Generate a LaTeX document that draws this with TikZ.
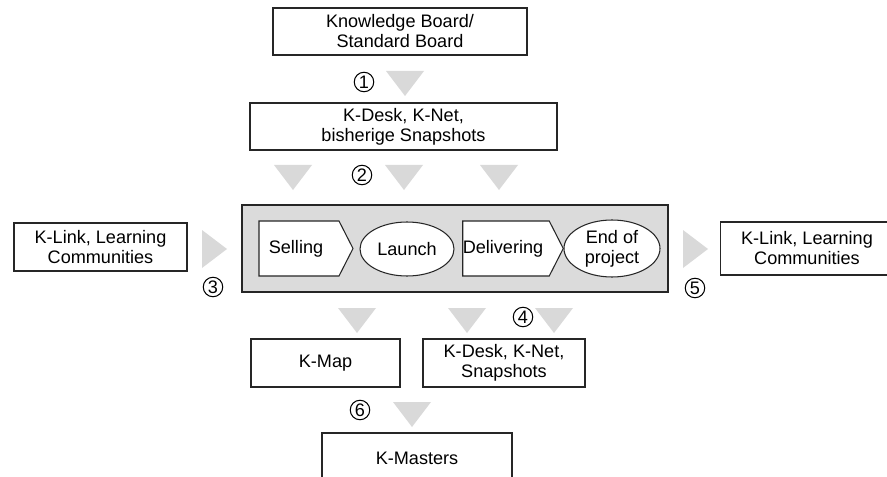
\documentclass[tikz,border=0pt]{standalone}
\usepackage{fontspec}
\setmainfont{Liberation Sans}
\usepackage{tikz}
\usetikzlibrary{shapes.geometric,shapes.symbols}

\begin{document}
\begin{tikzpicture}[scale=0.2]
        \tikzstyle{every node}+=[inner sep=0pt, font=\fontsize{10.3}{11.4}\selectfont, align=center]
        \tikzstyle{box}=[draw=black!85, line width=0.6pt, fill=white, rectangle]
        \tikzstyle{phase}=[draw=black!85, line width=0.6pt, fill=white, signal, signal to=east, signal pointer angle=126, minimum width=1.88cm, minimum height=1.1cm]
        \tikzstyle{event}=[draw=black!85, line width=0.6pt, fill=white, ellipse]
        \tikzstyle{num}=[draw=black, line width=0.6pt, circle, minimum size=0.39cm]
        \tikzstyle{tri}=[fill=black!15]
        \clip (0,0) rectangle (88.7,-47.7);
        \useasboundingbox (0,0) rectangle (88.7,-47.7);
        % boxes
        \node [box, minimum width=5.08cm, minimum height=0.94cm] (board) at (40.0,-3.15) {Knowledge Board/\\Standard Board};
        \node [box, minimum width=6.14cm, minimum height=0.94cm] (desk) at (40.35,-12.65) {K-Desk, K-Net,\\bisherige Snapshots};
        \node [box, minimum width=3.46cm, minimum height=0.96cm] (linkin) at (10.05,-24.7) {K-Link, Learning\\Communities};
        \node [box, minimum width=3.46cm, minimum height=1.06cm] (linkout) at (80.7,-24.85) {K-Link, Learning\\Communities};
        \node [box, fill=black!14, minimum width=8.52cm, minimum height=1.74cm] (project) at (45.5,-24.85) {};
        \node [box, minimum width=2.98cm, minimum height=0.96cm] (kmap) at (32.55,-36.3) {K-Map};
        \node [box, minimum width=3.24cm, minimum height=0.96cm] (snap) at (50.4,-36.3) {K-Desk, K-Net,\\Snapshots};
        \node [box, minimum width=3.8cm, minimum height=1.0cm] (masters) at (41.7,-45.8) {K-Masters};
        % project phases
        \node [phase] (selling) at (29.9,-24.85) {Selling\hspace{1.2mm}};
        \node [event, minimum width=1.88cm, minimum height=1.08cm] (launch) at (40.7,-24.9) {Launch};
        \node [phase] (delivering) at (50.6,-24.85) {Delivering\hspace{1.2mm}};
        \node [event, minimum width=1.92cm, minimum height=1.14cm] (end) at (61.2,-24.85) {End of\\project};
        % gray arrows
        \fill [tri] (38.6,-7.1) -- (42.4,-7.1) -- (40.5,-9.6) -- cycle;
        \fill [tri] (27.4,-16.5) -- (31.2,-16.5) -- (29.3,-19.0) -- cycle;
        \fill [tri] (38.5,-16.5) -- (42.3,-16.5) -- (40.4,-19.0) -- cycle;
        \fill [tri] (48.0,-16.5) -- (51.8,-16.5) -- (49.9,-19.0) -- cycle;
        \fill [tri] (20.2,-23.0) -- (20.2,-26.8) -- (22.7,-24.9) -- cycle;
        \fill [tri] (68.3,-23.0) -- (68.3,-26.8) -- (70.8,-24.9) -- cycle;
        \fill [tri] (33.8,-30.8) -- (37.6,-30.8) -- (35.7,-33.3) -- cycle;
        \fill [tri] (44.8,-30.8) -- (48.6,-30.8) -- (46.7,-33.3) -- cycle;
        \fill [tri] (53.5,-30.8) -- (57.3,-30.8) -- (55.4,-33.3) -- cycle;
        \fill [tri] (39.3,-40.2) -- (43.1,-40.2) -- (41.2,-42.7) -- cycle;
        % numbers
        \node [num] (n1) at (36.4,-8.2) {1};
        \node [num] (n2) at (36.2,-17.5) {2};
        \node [num] (n3) at (21.3,-28.7) {3};
        \node [num] (n4) at (52.3,-31.7) {4};
        \node [num] (n5) at (69.5,-28.8) {5};
        \node [num] (n6) at (36.0,-41.0) {6};
      \end{tikzpicture}
\end{document}
